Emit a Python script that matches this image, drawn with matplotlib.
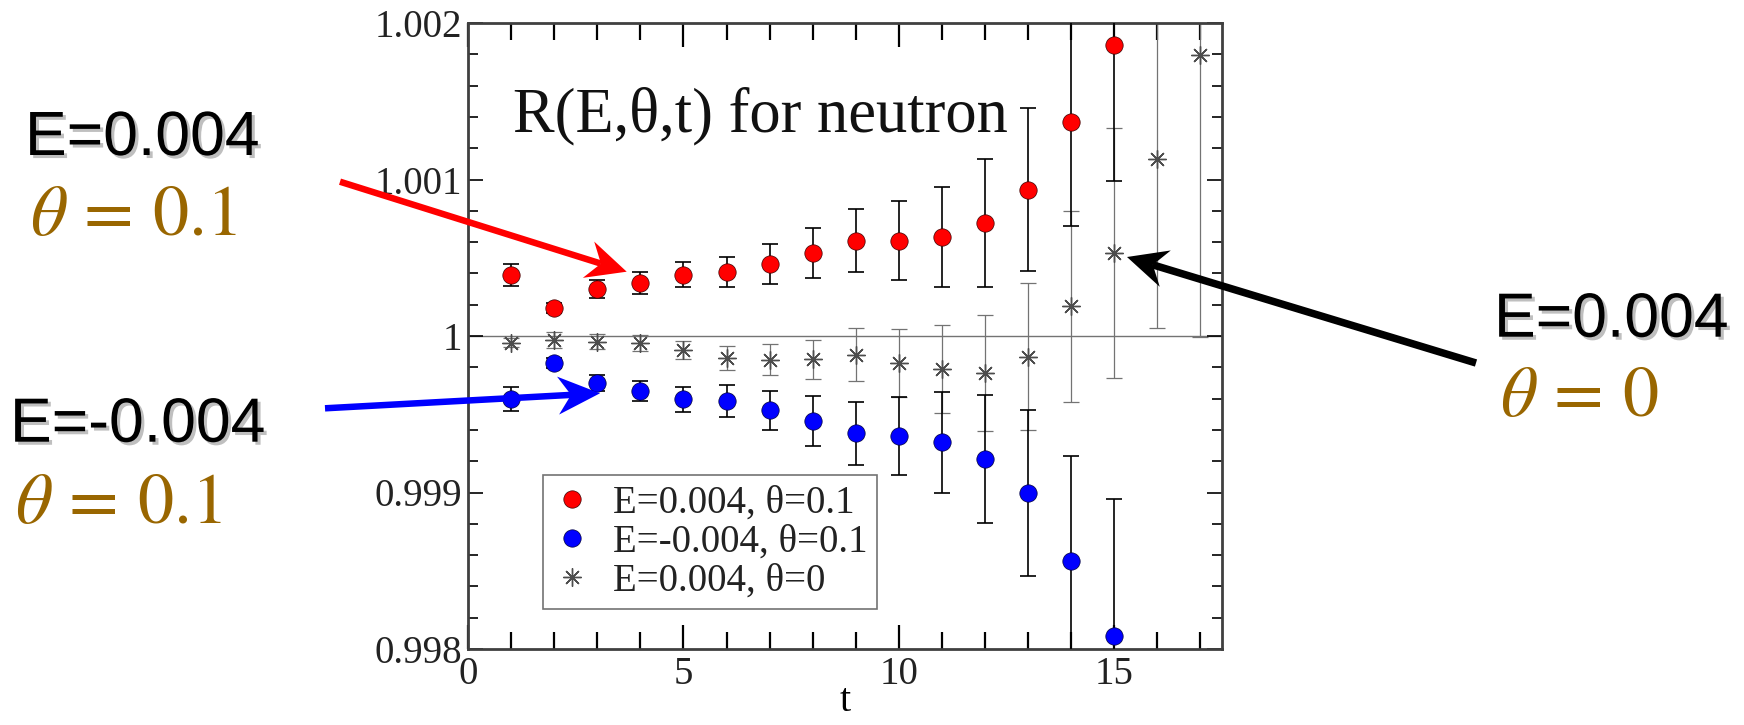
import matplotlib
matplotlib.use("Agg")
import matplotlib.pyplot as plt
import matplotlib.patheffects as pe
import numpy as np
from matplotlib.lines import Line2D
from matplotlib.patches import Polygon
from matplotlib.ticker import FuncFormatter, MultipleLocator
from matplotlib.transforms import Affine2D

plt.rcParams["font.family"] = ["Liberation Serif", "DejaVu Serif"]
plt.rcParams["mathtext.fontset"] = "stix"

W, H = 1744, 725

# data
t_theta = np.arange(1, 16)
t_zero = np.arange(1, 18)

r_pos = [1.00039, 1.00018, 1.00030, 1.00034, 1.00039, 1.00041, 1.00046, 1.00053,
         1.00061, 1.00061, 1.00063, 1.00072, 1.000935, 1.00137, 1.00186]
err_pos = [0.00007, 0.00003, 0.00006, 0.00007, 0.00008, 0.000095, 0.000125, 0.00016,
           0.00020, 0.00025, 0.00032, 0.00041, 0.00052, 0.00067, 0.00087]

r_neg = [0.999595, 0.999827, 0.99970, 0.999648, 0.999595, 0.999584, 0.999525, 0.999458,
         0.999378, 0.999363, 0.999321, 0.999215, 0.998998, 0.998565, 0.99808]
err_neg = [0.000077, 0.00003, 0.00005, 0.000066, 0.000082, 0.000104, 0.000123, 0.00016,
           0.00020, 0.00025, 0.000324, 0.00041, 0.00053, 0.000667, 0.000876]

r_zero = [0.999958, 0.999975, 0.999964, 0.999954, 0.999911, 0.999859, 0.999848, 0.999852,
          0.99988, 0.999827, 0.999789, 0.999764, 0.999867, 1.00019, 1.00053, 1.00113, 1.001795]
err_zero = [0.00003, 0.00005, 0.00005, 0.00005, 0.000058, 0.000074, 0.000098, 0.000125,
            0.00017, 0.000215, 0.00028, 0.00037, 0.00047, 0.00061, 0.00080, 0.00108, 0.0018]

legend_labels = ["E=0.004, θ=0.1", "E=-0.004, θ=0.1", "E=0.004, θ=0"]
y_labels = {0.998: "0.998", 0.999: "0.999", 1.0: "1", 1.001: "1.001", 1.002: "1.002"}

BROWN = "#996600"
STAR = (8, 2, 0)

fig = plt.figure(figsize=(W / 100, H / 100), dpi=100)
px = Affine2D().scale(1 / W, -1 / H).translate(0, 1) + fig.transFigure

ax = fig.add_axes([468 / W, 1 - 649 / H, 754 / W, 626 / H])

ax.axhline(1.0, color="0.45", lw=1.0, zorder=1)

ax.errorbar(t_zero, r_zero, yerr=err_zero, fmt="none", ecolor="0.45",
            elinewidth=0.9, capsize=5.5, capthick=0.9, zorder=2)
ax.plot(t_zero, r_zero, ls="none", marker=STAR, ms=13, mec="0.3", mew=1.0, zorder=3)

ax.errorbar(t_theta, r_pos, yerr=err_pos, fmt="none", ecolor="black",
            elinewidth=1.2, capsize=5.5, capthick=1.2, zorder=4)
ax.errorbar(t_theta, r_neg, yerr=err_neg, fmt="none", ecolor="black",
            elinewidth=1.2, capsize=5.5, capthick=1.2, zorder=4)
ax.plot(t_theta, r_pos, ls="none", marker="o", ms=12.5, mfc="red", mec="#3a0000",
        mew=0.5, zorder=5)
ax.plot(t_theta, r_neg, ls="none", marker="o", ms=12.5, mfc="blue", mec="#00003a",
        mew=0.5, zorder=5)

ax.set_xlim(0, 17.5)
ax.set_ylim(0.998, 1.002)
ax.xaxis.set_major_locator(MultipleLocator(5))
ax.xaxis.set_minor_locator(MultipleLocator(1))
ax.yaxis.set_major_locator(MultipleLocator(0.001))
ax.yaxis.set_minor_locator(MultipleLocator(0.0002))
ax.yaxis.set_major_formatter(FuncFormatter(lambda v, p: y_labels.get(round(v, 4), "")))

ax.tick_params(which="both", direction="in", top=True, right=True, labelsize=28,
               colors="black", labelcolor="#222222")
ax.tick_params(axis="x", which="major", length=17, width=1.6, pad=5)
ax.tick_params(axis="x", which="minor", length=12, width=1.6)
ax.tick_params(axis="y", which="major", length=11, width=1.2, pad=4)
ax.tick_params(axis="y", which="minor", length=7, width=1.2)
for spine in ax.spines.values():
    spine.set_linewidth(2.0)
    spine.set_color("0.25")

ax.set_xlabel("t", fontsize=29, labelpad=-7)

handles = [
    Line2D([], [], ls="none", marker="o", ms=12.5, mfc="red", mec="#3a0000", mew=0.5),
    Line2D([], [], ls="none", marker="o", ms=12.5, mfc="blue", mec="#00003a", mew=0.5),
    Line2D([], [], ls="none", marker=STAR, ms=13, mec="0.3", mew=1.0),
]
leg = ax.legend(handles, legend_labels, loc="upper left",
                bbox_to_anchor=((543 - 468) / 754, (649 - 475) / 626),
                borderaxespad=0, fontsize=28, frameon=True, fancybox=False,
                edgecolor="0.45", framealpha=1, handlelength=1.0,
                handletextpad=0.55, labelspacing=0.05, borderpad=0.25)
leg.get_frame().set_linewidth(1.2)
for txt in leg.get_texts():
    txt.set_color("#222222")

fig.text(513, 131.7, "R(E,θ,t) for neutron", transform=px, fontsize=45,
         va="baseline", color="#111111")


def stealth_arrow(tail, tip, color, lw_px, head_len=40, head_half=19, notch=13):
    tail = np.array(tail, float)
    tip = np.array(tip, float)
    u = (tip - tail) / np.linalg.norm(tip - tail)
    n = np.array([-u[1], u[0]])
    base = tip - u * head_len
    back = tip - u * (head_len - notch)
    fig.add_artist(Line2D([tail[0], back[0]], [tail[1], back[1]], transform=px,
                          color=color, lw=lw_px * 0.72, solid_capstyle="butt"))
    head = [tip, base + n * head_half, back, base - n * head_half]
    fig.add_artist(Polygon(head, closed=True, transform=px, fc=color, ec="none"))


stealth_arrow((340, 181.7), (626.7, 271.7), "#ff0000", 6.5)
stealth_arrow((325, 408.3), (600, 393.3), "#0000ff", 6.5, head_len=42)
stealth_arrow((1476, 363), (1127, 257), "black", 7.5)

shadow = [pe.withSimplePatchShadow(offset=(2.2, -2.2), shadow_rgbFace="0.75", alpha=1.0)]
sans = ["Liberation Sans", "DejaVu Sans"]

fig.text(25, 155, "E=0.004", transform=px, family=sans, fontsize=45,
         va="baseline", path_effects=shadow)
fig.text(10, 441.7, "E=-0.004", transform=px, family=sans, fontsize=45,
         va="baseline", path_effects=shadow)
fig.text(1494, 336.7, "E=0.004", transform=px, family=sans, fontsize=45,
         va="baseline", path_effects=shadow)

fig.text(30, 235, r"$\theta\,=\,0.1$", transform=px, fontsize=52, color=BROWN, va="baseline")
fig.text(15, 523, r"$\theta\,=\,0.1$", transform=px, fontsize=52, color=BROWN, va="baseline")
fig.text(1500, 416, r"$\theta\,=\,0$", transform=px, fontsize=52, color=BROWN, va="baseline")

fig.savefig("out.png", dpi=100)
